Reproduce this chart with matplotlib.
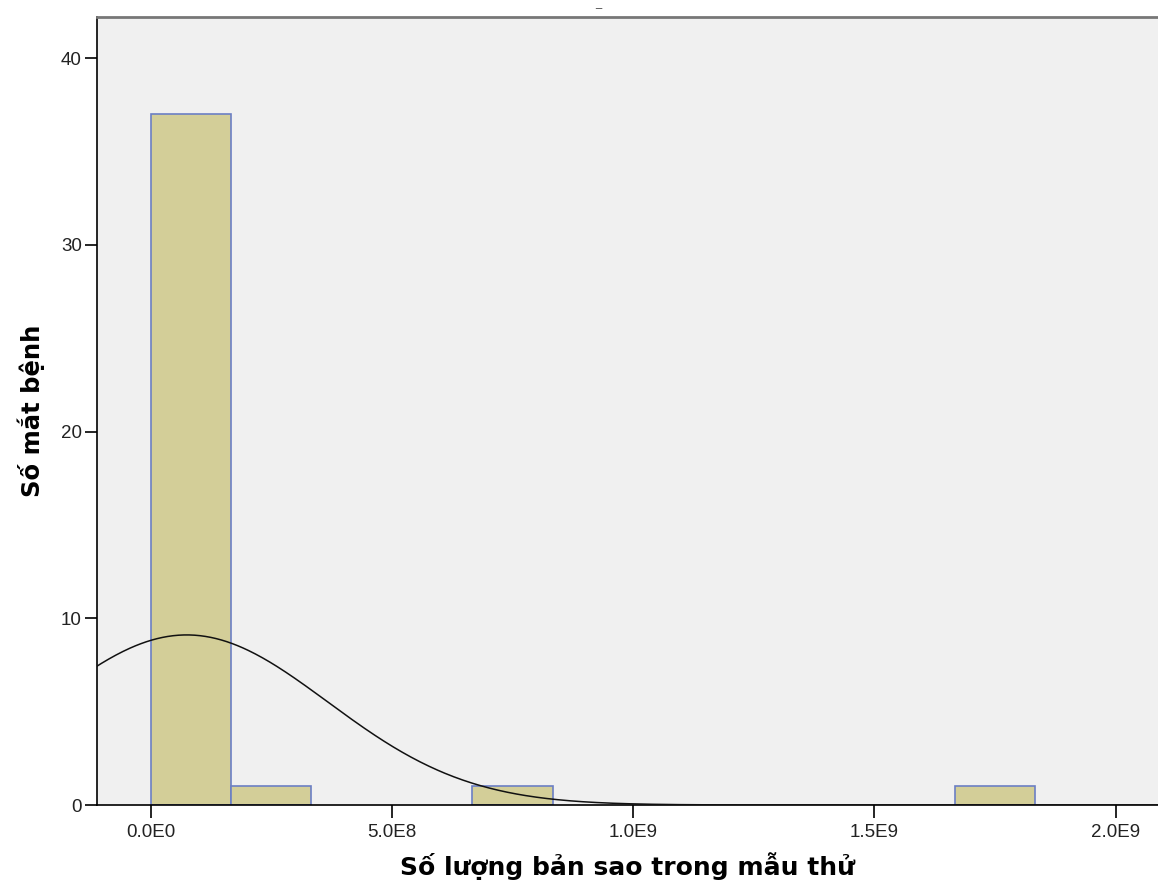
import numpy as np
import matplotlib
matplotlib.use("Agg")
import matplotlib.pyplot as plt

# Histogram data (bin edges and counts)
bin_width = 2.0e9 / 12
bin_starts = [0.0, bin_width, 4 * bin_width, 10 * bin_width]
counts = [37, 1, 1, 1]

# Fitted normal curve parameters
n_total = 40
mean_val = 7.5e7
sd_val = 2.92e8

x_ticks = [0, 5e8, 1e9, 1.5e9, 2e9]
x_tick_labels = ["0.0E0", "5.0E8", "1.0E9", "1.5E9", "2.0E9"]
y_ticks = [0, 10, 20, 30, 40]

x_label = "Số lượng bản sao trong mẫu thử"
y_label = "Số mắt bệnh"

plt.rcParams['font.family'] = ['Liberation Sans', 'DejaVu Sans']

fig = plt.figure(figsize=(11.58, 8.93), dpi=100)
ax = fig.add_axes([97 / 1158, 1 - 805 / 893, 1 - 97 / 1158, (805 - 17) / 893])
ax.set_facecolor('#f0f0f0')

ax.bar(bin_starts, counts, width=bin_width, align='edge',
       color='#d3ce98', edgecolor='#6b7fc4', linewidth=1.2, zorder=2)

# normal curve over the visible x range
xs = np.linspace(-1.2e8, 2.1e9, 600)
ys = n_total * bin_width * np.exp(-0.5 * ((xs - mean_val) / sd_val) ** 2) / (sd_val * np.sqrt(2 * np.pi))
ax.plot(xs, ys, color='#111111', linewidth=1.1, zorder=3)

ax.set_xlim(-1.109e8, 2.088e9)
ax.set_ylim(0, 42.2)
ax.set_xticks(x_ticks)
ax.set_xticklabels(x_tick_labels)
ax.set_yticks(y_ticks)
ax.tick_params(direction='out', length=9, width=1.2, labelsize=13.5, labelcolor='#222222')
ax.tick_params(axis='y', pad=2)
ax.tick_params(axis='x', pad=5)

for side in ['left', 'bottom']:
    ax.spines[side].set_linewidth(1.2)
    ax.spines[side].set_color('black')
ax.spines['top'].set_color('#777777')
ax.spines['top'].set_linewidth(2)
ax.spines['right'].set_visible(False)

ax.set_xlabel(x_label, family='DejaVu Sans', fontsize=18, fontweight='bold', labelpad=8)
ax.set_ylabel(y_label, family='DejaVu Sans', fontsize=17.5, fontweight='bold', labelpad=11)

# cut-off title remnant at the very top
fig.text(598 / 1158, 1 - 9 / 893, "_", ha='center', va='bottom', fontsize=8, color='#333333')

fig.savefig("out.png", dpi=100)
